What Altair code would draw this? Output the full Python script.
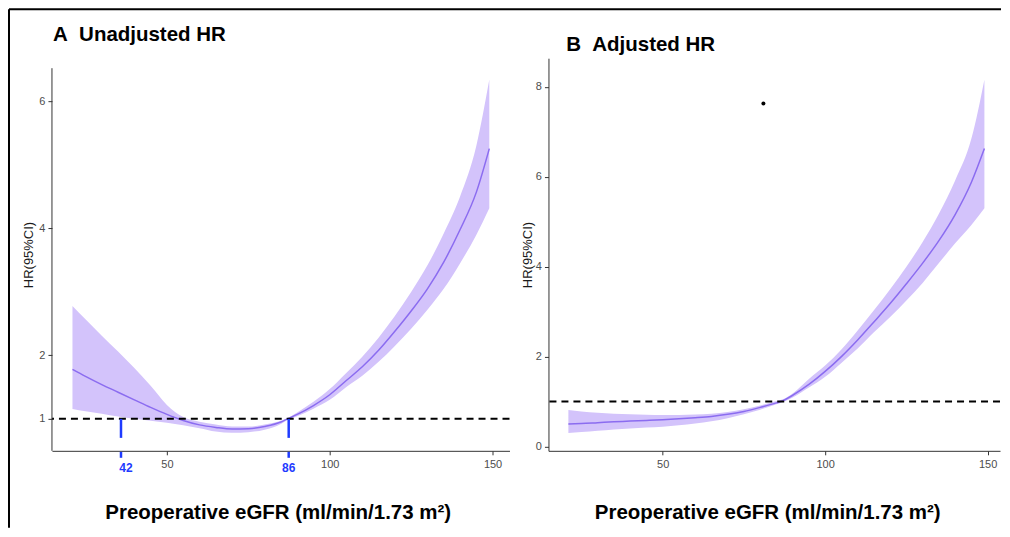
import altair as alt
import pandas as pd

FONT = "Liberation Sans"
BAND = "#d3c3fb"
LINE = "#8b6cf0"
BLUE = "#1f3bff"
AXIS = "#333333"
LABEL = "#4d4d4d"

# ---- data ----
egfr = [21, 25, 30, 35, 40, 45, 50, 55, 60, 65, 70, 75, 80, 85, 87,
        90, 95, 100, 105, 110, 115, 120, 125, 130, 135, 140, 145, 149]

# Panel A: unadjusted HR
a_hr = [1.78, 1.67, 1.54, 1.42, 1.30, 1.18, 1.07, 0.975, 0.905, 0.865, 0.84, 0.845, 0.88, 0.95, 1.00,
        1.07, 1.21, 1.38, 1.60, 1.82, 2.08, 2.38, 2.70, 3.05, 3.47, 3.98, 4.57, 5.26]
a_lo = [1.157, 1.12, 1.08, 1.035, 1.00, 0.97, 0.94, 0.90, 0.853, 0.80, 0.78, 0.79, 0.83, 0.92, 0.98,
        1.04, 1.16, 1.30, 1.50, 1.68, 1.90, 2.15, 2.42, 2.72, 3.05, 3.45, 3.90, 4.32]
a_hi = [2.78, 2.57, 2.31, 2.06, 1.80, 1.52, 1.22, 1.03, 0.955, 0.91, 0.88, 0.88, 0.91, 0.97, 1.01,
        1.10, 1.27, 1.47, 1.72, 1.98, 2.28, 2.62, 3.00, 3.42, 3.92, 4.50, 5.30, 6.35]

# Panel B: adjusted HR
b_hr = [0.50, 0.51, 0.53, 0.55, 0.565, 0.58, 0.595, 0.615, 0.64, 0.67, 0.715, 0.78, 0.87, 0.97, 1.02,
        1.14, 1.38, 1.67, 2.00, 2.37, 2.77, 3.18, 3.62, 4.08, 4.58, 5.16, 5.88, 6.63]
b_lo = [0.30, 0.32, 0.35, 0.38, 0.40, 0.42, 0.44, 0.47, 0.51, 0.56, 0.63, 0.72, 0.82, 0.94, 0.99,
        1.09, 1.31, 1.55, 1.86, 2.18, 2.54, 2.88, 3.25, 3.64, 4.08, 4.52, 4.93, 5.30]
b_hi = [0.81, 0.78, 0.75, 0.73, 0.715, 0.705, 0.70, 0.70, 0.71, 0.73, 0.77, 0.83, 0.91, 1.01, 1.05,
        1.18, 1.50, 1.80, 2.16, 2.58, 3.03, 3.50, 4.00, 4.55, 5.18, 5.92, 6.85, 8.16]

ref_hr = [1.0]
cut_pos = [35.9, 87.4]
cut_label = ["42", "86"]
cut_top = [1.0, 1.0]
cut_bot = [0.70, 0.70]
dot_x = [81.0]
dot_y = [7.63]

x_title = "Preoperative eGFR (ml/min/1.73 m²)"
title_a = "A\u00a0\u00a0Unadjusted HR"
title_b = "B\u00a0\u00a0Adjusted HR"

a_df = pd.DataFrame({"egfr": egfr, "hr": a_hr, "lo": a_lo, "hi": a_hi})
b_df = pd.DataFrame({"egfr": egfr, "hr": b_hr, "lo": b_lo, "hi": b_hi})
ref_df = pd.DataFrame({"hr": ref_hr})
cut_df = pd.DataFrame({"pos": cut_pos, "label": cut_label, "top": cut_top, "bot": cut_bot})
dot_df = pd.DataFrame({"egfr": dot_x, "hr": dot_y})
one = pd.DataFrame({"k": [0]})

W_A, W_B, H = 458, 452, 393


def xaxis(tx):
    return alt.Axis(values=[50, 100, 150], title=x_title, grid=False, format="d",
                    titleFont=FONT, titleFontSize=20.5, titleFontWeight="bold", titleColor="black",
                    titleX=tx, titleY=68, titleBaseline="alphabetic",
                    labelFont=FONT, labelFontSize=11, labelColor=LABEL, labelPadding=4,
                    tickSize=4, tickColor=AXIS, domainColor=AXIS)


def yaxis(vals, tx, domain=True):
    return alt.Axis(values=vals, title="HR(95%CI)", grid=False, domain=domain, format="d",
                    titleFont=FONT, titleFontSize=13, titleFontWeight="normal", titleColor="#1a1a1a",
                    titleX=tx, titleBaseline="middle",
                    labelFont=FONT, labelFontSize=11, labelColor=LABEL, labelPadding=3,
                    tickSize=4, tickColor=AXIS, domainColor=AXIS)


def panel(df, xs, ys, yvals, tx_x, tx_y, ydomain=True):
    band = alt.Chart(df).mark_area(color=BAND, opacity=1, interpolate="monotone").encode(
        x=alt.X("egfr:Q", scale=xs, axis=xaxis(tx_x)),
        y=alt.Y("lo:Q", scale=ys, axis=yaxis(yvals, tx_y, ydomain)),
        y2="hi:Q",
    )
    line = alt.Chart(df).mark_line(color=LINE, strokeWidth=1.5, interpolate="monotone").encode(
        x="egfr:Q", y="hr:Q")
    ref = alt.Chart(ref_df).mark_rule(color="black", strokeDash=[7, 5], strokeWidth=2).encode(
        y=alt.Y("hr:Q", scale=ys))
    return band, line, ref


# ---- panel A ----
xA = alt.Scale(domain=[14.7, 155.2], nice=False, zero=False)
yA = alt.Scale(domain=[0.496, 6.685], nice=False, zero=False)
bandA, lineA, refA = panel(a_df, xA, yA, [1, 2, 4, 6], 226, -23, ydomain=False)

ylineA = alt.Chart(one).mark_rule(color=AXIS, strokeWidth=1).encode(
    x=alt.value(0), y=alt.value(10), y2=alt.value(H))
cuts = alt.Chart(cut_df).mark_rule(color=BLUE, strokeWidth=2.5).encode(
    x="pos:Q", y="top:Q", y2="bot:Q")
cut_ticks = alt.Chart(cut_df).mark_rule(color=BLUE, strokeWidth=2.5).encode(
    x="pos:Q", y=alt.value(H + 1), y2=alt.value(H + 7))
cut_text1 = alt.Chart(cut_df).transform_filter(alt.datum.label == "42").mark_text(
    color=BLUE, font=FONT, fontSize=12, fontWeight="bold", baseline="alphabetic", dx=5).encode(
    x="pos:Q", y=alt.value(H + 21.5), text="label:N")
cut_text2 = alt.Chart(cut_df).transform_filter(alt.datum.label == "86").mark_text(
    color=BLUE, font=FONT, fontSize=12, fontWeight="bold", baseline="alphabetic").encode(
    x="pos:Q", y=alt.value(H + 21.5), text="label:N")
titleA = alt.Chart(pd.DataFrame({"t": [title_a]})).mark_text(
    align="left", baseline="alphabetic", font=FONT, fontSize=20.5, fontWeight="bold", color="black").encode(
    x=alt.value(1), y=alt.value(-17.3), text="t:N")
frame_top = alt.Chart(one).mark_rule(color="black", strokeWidth=2).encode(
    x=alt.value(-43), x2=alt.value(950), y=alt.value(-49))
frame_left = alt.Chart(one).mark_rule(color="black", strokeWidth=2).encode(
    x=alt.value(-43), y=alt.value(-49), y2=alt.value(470))

left = alt.layer(bandA, lineA, refA, ylineA, cuts, cut_ticks, cut_text1, cut_text2,
                 titleA, frame_top, frame_left).properties(width=W_A, height=H)

# ---- panel B ----
xB = alt.Scale(domain=[14.87, 153.8], nice=False, zero=False)
yB = alt.Scale(domain=[-0.096, 8.638], nice=False, zero=False)
bandB, lineB, refB = panel(b_df, xB, yB, [0, 2, 4, 6, 8], 219, -21)
dot = alt.Chart(dot_df).mark_circle(color="black", size=16, opacity=1).encode(
    x=alt.X("egfr:Q", scale=xB), y=alt.Y("hr:Q", scale=yB))
titleB = alt.Chart(pd.DataFrame({"t": [title_b]})).mark_text(
    align="left", baseline="alphabetic", font=FONT, fontSize=20.5, fontWeight="bold", color="black").encode(
    x=alt.value(17.7), y=alt.value(-7.3), text="t:N")

right = alt.layer(bandB, lineB, refB, dot, titleB).properties(width=W_B, height=H)

chart = alt.hconcat(left, right, spacing=39, bounds="flush").properties(
    padding=0, background="white"
).configure_view(stroke=None).resolve_scale(x="independent", y="independent")

chart.save("out.html", embed_options={"renderer": "svg", "actions": False})
